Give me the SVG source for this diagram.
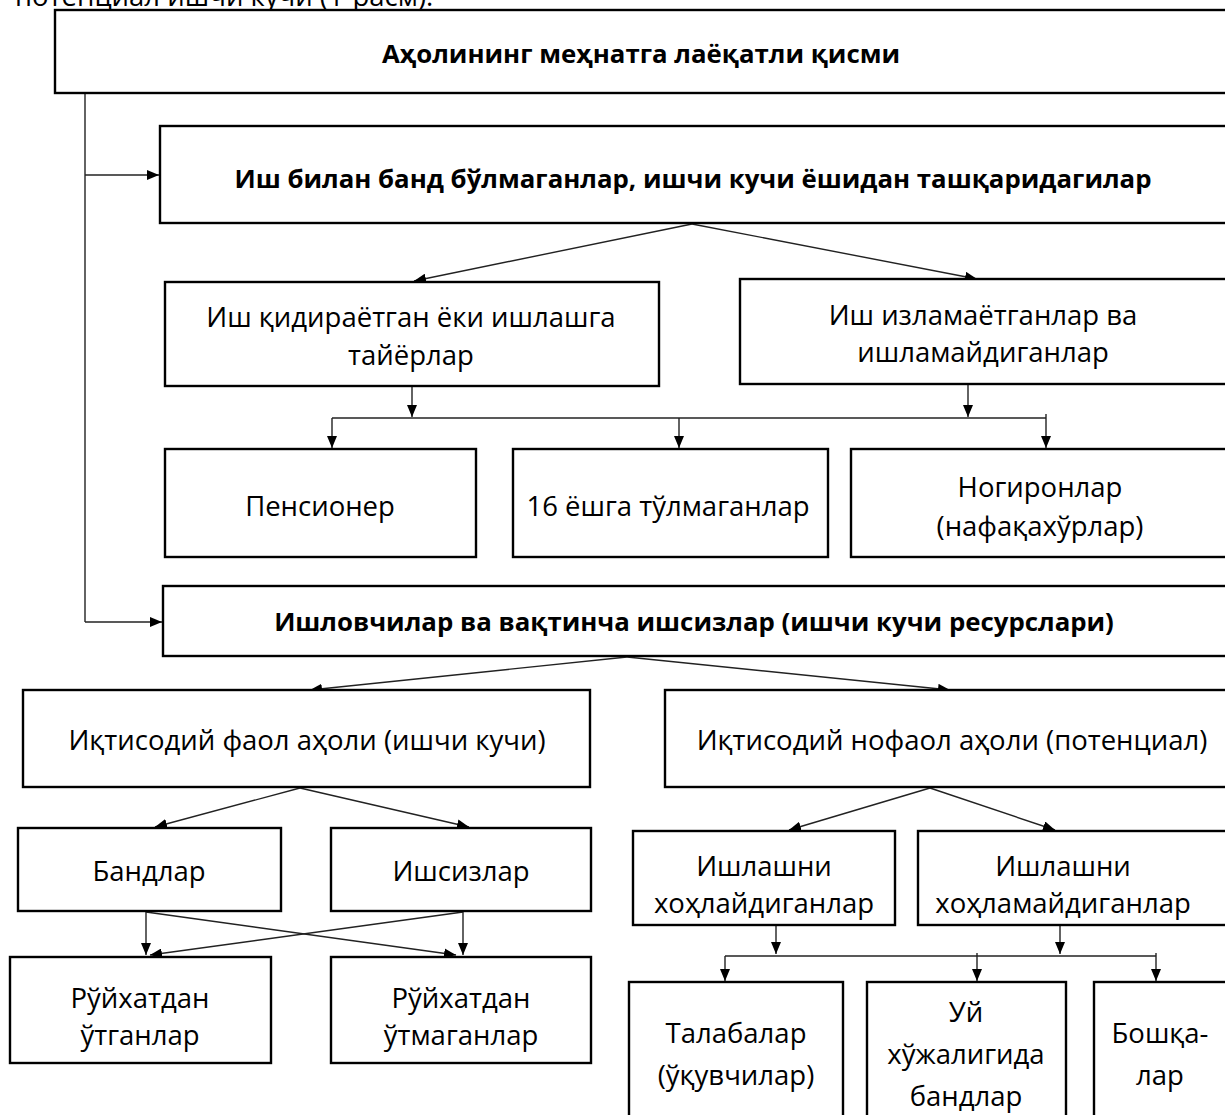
<svg xmlns="http://www.w3.org/2000/svg" width="1225" height="1115" viewBox="0 0 1225 1115">
<defs>
<marker id="ah" markerWidth="12" markerHeight="10" refX="12" refY="5" orient="auto" markerUnits="userSpaceOnUse">
<path d="M0,0 L12,5 L0,10 Z" fill="#000"/>
</marker>
<style>
.box{fill:#fff;stroke:#000;stroke-width:2.4}
.t{font-family:"Open Sans","Noto Sans","DejaVu Sans",sans-serif;font-size:27.5px;fill:#000;text-anchor:middle}
.b{font-weight:bold;font-size:25.8px}
.c{fill:none;stroke:#222;stroke-width:1.4}
.ca{fill:none;stroke:#222;stroke-width:1.4;marker-end:url(#ah)}
</style>
</defs>
<rect width="1225" height="1115" fill="#fff"/>
<text class="t" x="15" y="6" style="text-anchor:start">потенциал ишчи кучи (1-расм).</text>

<g id="connectors">
<polyline class="c" points="85,93 85,622"/>
<line class="ca" x1="85" y1="175" x2="159" y2="175"/>
<line class="ca" x1="85" y1="622" x2="162" y2="622"/>
<line class="ca" x1="692" y1="224" x2="414" y2="281"/>
<line class="ca" x1="692" y1="224" x2="977" y2="279"/>
<line class="ca" x1="412" y1="386" x2="412" y2="417"/>
<line class="ca" x1="968" y1="384" x2="968" y2="417"/>
<polyline class="c" points="332,418 1046,418"/>
<line class="ca" x1="332" y1="418" x2="332" y2="448"/>
<line class="ca" x1="679" y1="418" x2="679" y2="448"/>
<line class="ca" x1="1046" y1="414" x2="1046" y2="448"/>
<line class="ca" x1="627" y1="657" x2="310" y2="690"/>
<line class="ca" x1="627" y1="657" x2="950" y2="690"/>
<line class="ca" x1="300" y1="788" x2="155" y2="827"/>
<line class="ca" x1="300" y1="788" x2="469" y2="827"/>
<line class="ca" x1="146" y1="912" x2="146" y2="955"/>
<line class="ca" x1="463" y1="912" x2="463" y2="955"/>
<line class="ca" x1="146" y1="912" x2="456" y2="955"/>
<line class="ca" x1="463" y1="912" x2="150" y2="955"/>
<line class="ca" x1="930" y1="788" x2="789" y2="830"/>
<line class="ca" x1="930" y1="788" x2="1055" y2="830"/>
<line class="ca" x1="776" y1="925" x2="776" y2="954"/>
<line class="ca" x1="1060" y1="925" x2="1060" y2="954"/>
<polyline class="c" points="725,956 1156,956"/>
<line class="ca" x1="725" y1="956" x2="725" y2="981"/>
<line class="ca" x1="977" y1="953" x2="977" y2="981"/>
<line class="ca" x1="1156" y1="953" x2="1156" y2="981"/>
</g>

<g id="n1"><rect class="box" x="55" y="10" width="1185" height="83"/><text class="t b" x="641" y="63">Аҳолининг меҳнатга лаёқатли қисми</text></g>
<g id="n2"><rect class="box" x="160" y="126" width="1080" height="97"/><text class="t b" x="693" y="188">Иш билан банд бўлмаганлар, ишчи кучи ёшидан ташқаридагилар</text></g>
<g id="n3"><rect class="box" x="165" y="282" width="494" height="104"/><text class="t" x="411" y="327">Иш қидираётган ёки ишлашга</text><text class="t" x="411" y="365">тайёрлар</text></g>
<g id="n4"><rect class="box" x="740" y="279" width="500" height="105"/><text class="t" x="983" y="325">Иш изламаётганлар ва</text><text class="t" x="983" y="362">ишламайдиганлар</text></g>
<g id="n5"><rect class="box" x="165" y="449" width="311" height="108"/><text class="t" x="320" y="516">Пенсионер</text></g>
<g id="n6"><rect class="box" x="513" y="449" width="315" height="108"/><text class="t" x="668" y="516">16 ёшга тўлмаганлар</text></g>
<g id="n7"><rect class="box" x="851" y="449" width="389" height="108"/><text class="t" x="1040" y="497">Ногиронлар</text><text class="t" x="1040" y="536">(нафақахўрлар)</text></g>
<g id="n8"><rect class="box" x="163" y="586" width="1077" height="70"/><text class="t b" x="694" y="631">Ишловчилар ва вақтинча ишсизлар (ишчи кучи ресурслари)</text></g>
<g id="n9"><rect class="box" x="23" y="690" width="567" height="97"/><text class="t" x="307" y="750">Иқтисодий фаол аҳоли (ишчи кучи)</text></g>
<g id="n10"><rect class="box" x="665" y="690" width="575" height="97"/><text class="t" x="952" y="750">Иқтисодий нофаол аҳоли (потенциал)</text></g>
<g id="n11"><rect class="box" x="18" y="828" width="263" height="83"/><text class="t" x="149" y="881">Бандлар</text></g>
<g id="n12"><rect class="box" x="331" y="828" width="260" height="83"/><text class="t" x="461" y="881">Ишсизлар</text></g>
<g id="n13"><rect class="box" x="10" y="957" width="261" height="106"/><text class="t" x="140" y="1008">Рўйхатдан</text><text class="t" x="140" y="1045">ўтганлар</text></g>
<g id="n14"><rect class="box" x="331" y="957" width="260" height="106"/><text class="t" x="461" y="1008">Рўйхатдан</text><text class="t" x="461" y="1045">ўтмаганлар</text></g>
<g id="n15"><rect class="box" x="633" y="831" width="262" height="94"/><text class="t" x="764" y="876">Ишлашни</text><text class="t" x="764" y="913">хоҳлайдиганлар</text></g>
<g id="n16"><rect class="box" x="918" y="831" width="322" height="94"/><text class="t" x="1063" y="876">Ишлашни</text><text class="t" x="1063" y="913">хоҳламайдиганлар</text></g>
<g id="n17"><rect class="box" x="629" y="982" width="214" height="150"/><text class="t" x="736" y="1043">Талабалар</text><text class="t" x="736" y="1085">(ўқувчилар)</text></g>
<g id="n18"><rect class="box" x="867" y="982" width="199" height="150"/><text class="t" x="966" y="1022">Уй</text><text class="t" x="966" y="1064">хўжалигида</text><text class="t" x="966" y="1106">бандлар</text></g>
<g id="n19"><rect class="box" x="1094" y="982" width="146" height="150"/><text class="t" x="1160" y="1043">Бошқа-</text><text class="t" x="1160" y="1085">лар</text></g>
</svg>
